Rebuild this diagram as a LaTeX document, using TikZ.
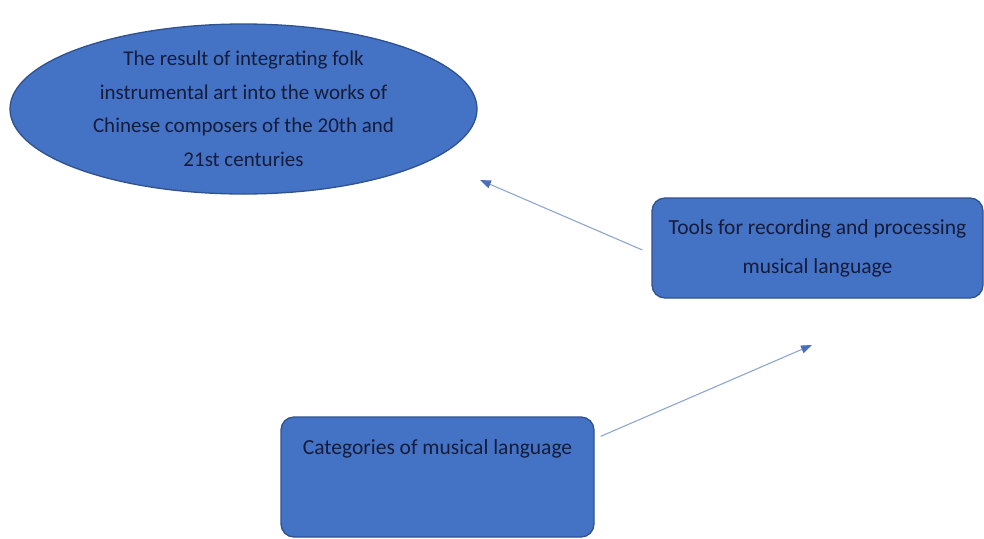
\documentclass[tikz,border=0pt]{standalone}
\usepackage{fontspec}
\setmainfont{Carlito}
\usetikzlibrary{arrows.meta,shapes.geometric}
\definecolor{boxfill}{HTML}{4472C4}
\definecolor{boxline}{HTML}{2F528F}
\definecolor{txt}{HTML}{161C3A}
\definecolor{arrline}{HTML}{8FA6CF}
\definecolor{arrhead}{HTML}{4A6FB5}
\begin{document}
\begin{tikzpicture}[x=1pt,y=1pt,
  shapebox/.style={fill=boxfill,draw=boxline,line width=1.3pt,text=txt,inner sep=0pt},
  roundbox/.style={shapebox,rectangle,rounded corners=13pt},
  arr/.style={draw=arrline,line width=1.1pt,-{Triangle[length=11pt,width=8pt,color=arrhead]}}]
\useasboundingbox (0,0) rectangle (984,-538);
\node[shapebox,ellipse,minimum width=467pt,minimum height=170pt,
  align=center,font=\fontsize{21}{33.5}\selectfont]
  (result) at (243.5,-109) {The result of integrating folk\\instrumental art into the works of\\Chinese composers of the 20th and\\21st centuries};
\node[roundbox,minimum width=331pt,minimum height=100pt,align=center,
  font=\fontsize{21.5}{39}\selectfont]
  (tools) at (817.5,-248) {Tools for recording and processing\\musical language};
\node[roundbox,minimum width=313pt,minimum height=120pt,
  text height=14pt,text depth=60pt,font=\fontsize{21.5}{22}\selectfont]
  (cat) at (437.5,-477) {Categories of musical language};
\coordinate (end1) at (480,-180);
\coordinate (end2) at (812,-345);
\draw[arr] ([shift={(-9pt,-2pt)}]tools.west) -- (end1);
\draw[arr] ([shift={(6pt,-20pt)}]cat.north east) -- (end2);
\end{tikzpicture}
\end{document}
